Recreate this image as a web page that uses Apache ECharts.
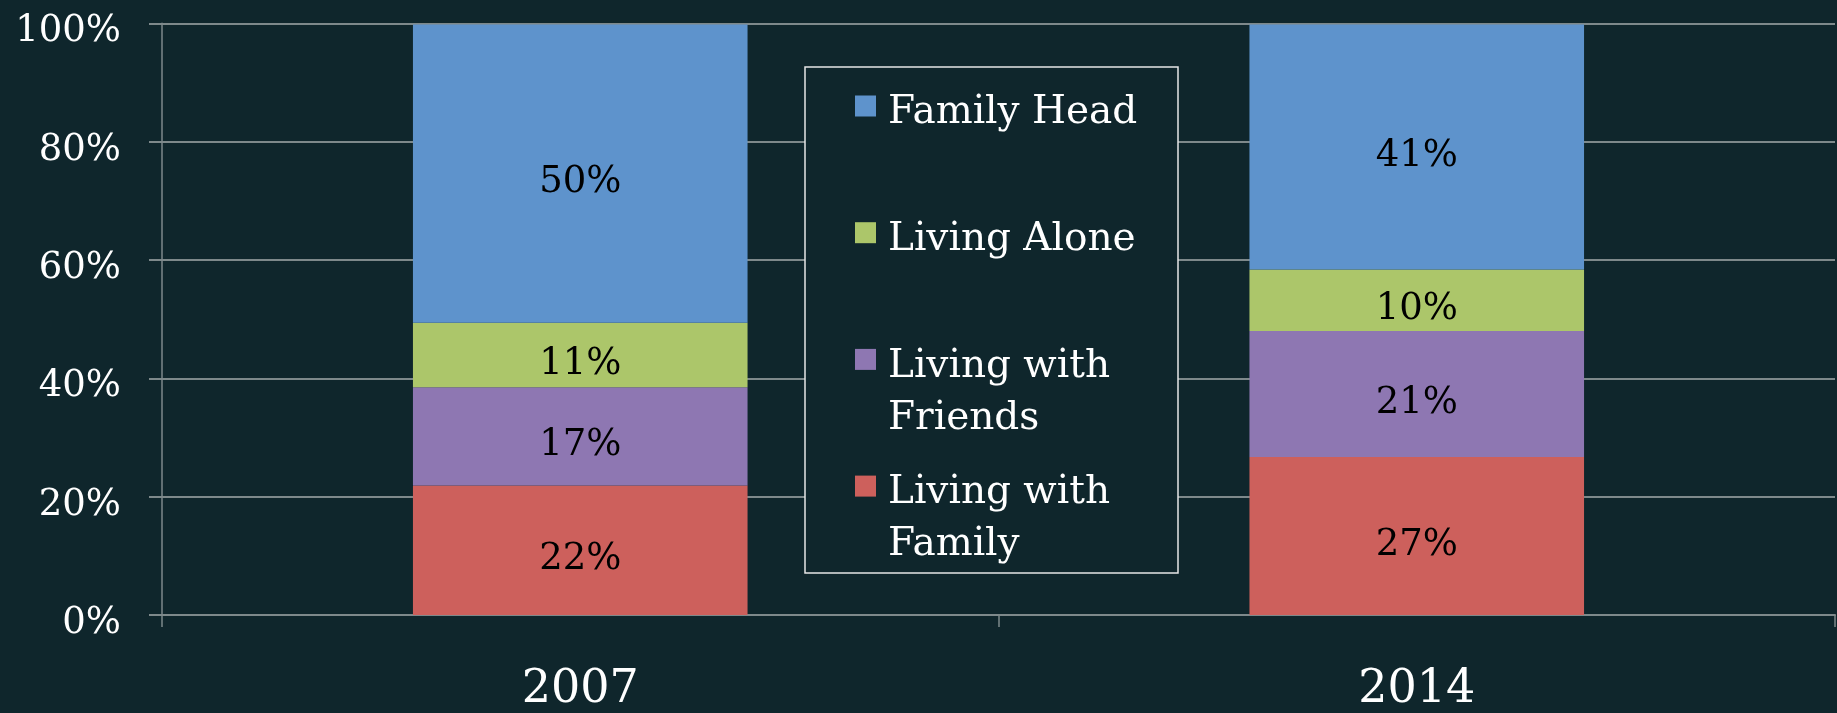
<!DOCTYPE html>
<html>
<head>
<meta charset="utf-8">
<script src="https://cdn.jsdelivr.net/npm/echarts@6/dist/echarts.min.js"></script>
<style>
  html, body { margin: 0; padding: 0; background: #0F262C; }
  #chart { width: 1837px; height: 713px; }
</style>
</head>
<body>
<div id="chart"></div>
<script>
// ---- data ----
const years = ['2007', '2014'];
const seriesNames = ['Living with Family', 'Living with Friends', 'Living Alone', 'Family Head'];
const livingWithFamily = [21.9, 26.7];
const livingWithFriends = [16.6, 21.3];
const livingAlone = [10.9, 10.4];
const familyHead = [50.4, 41.4];
const yTicks = [0, 20, 40, 60, 80, 100];
const legendOrder = ['Family Head', 'Living Alone', 'Living with Friends', 'Living with Family'];

const colors = {
  'Living with Family': '#CD605C',
  'Living with Friends': '#8E77B2',
  'Living Alone': '#ACC66A',
  'Family Head': '#5E93CC'
};
const values = {
  'Living with Family': livingWithFamily,
  'Living with Friends': livingWithFriends,
  'Living Alone': livingAlone,
  'Family Head': familyHead
};

const FONT = 'DejaVu Serif';
const GRID_COLOR = '#7E898B';

const chart = echarts.init(document.getElementById('chart'), null, { renderer: 'canvas' });

const series = seriesNames.map(name => ({
  name: name,
  type: 'bar',
  stack: 'total',
  barWidth: '40%',
  data: values[name],
  itemStyle: { color: colors[name] },
  label: {
    show: true,
    position: 'inside',
    offset: [0, 9],
    color: '#000000',
    fontFamily: FONT,
    fontSize: 37,
    formatter: p => Math.round(p.value) + '%'
  },
  emphasis: { disabled: true }
}));

chart.setOption({
  backgroundColor: '#0F262C',
  animation: false,
  grid: { left: 162, right: 2, top: 23.3, bottom: 98, containLabel: false },
  xAxis: {
    type: 'category',
    data: years,
    boundaryGap: true,
    axisLine: { show: true, lineStyle: { color: GRID_COLOR, width: 2 } },
    axisTick: { show: true, alignWithLabel: false, length: 12, lineStyle: { color: GRID_COLOR, width: 1.5 } },
    axisLabel: { color: '#FFFFFF', fontFamily: FONT, fontSize: 46, lineHeight: 46, margin: 52 },
    splitLine: { show: false }
  },
  yAxis: {
    type: 'value',
    min: yTicks[0],
    max: yTicks[yTicks.length - 1],
    interval: yTicks[1] - yTicks[0],
    axisLine: { show: true, lineStyle: { color: GRID_COLOR, width: 1.5 } },
    axisTick: { show: true, inside: false, length: 13, lineStyle: { color: GRID_COLOR, width: 2 } },
    axisLabel: {
      color: '#FFFFFF', fontFamily: FONT, fontSize: 37, margin: 41,
      formatter: v => '{t|' + v + '%}',
      rich: { t: { color: '#FFFFFF', fontFamily: FONT, fontSize: 37, padding: [17, 0, 0, 0] } }
    },
    splitLine: { show: true, lineStyle: { color: GRID_COLOR, width: 2 } }
  },
  legend: {
    data: legendOrder,
    orient: 'vertical',
    left: 855,
    top: 21,
    padding: 0,
    itemGap: -43.3,
    itemWidth: 21,
    itemHeight: 21,
    icon: 'rect',
    selectedMode: false,
    z: 10,
    textStyle: {
      color: '#FFFFFF', fontFamily: FONT, fontSize: 39, lineHeight: 52,
      rich: {
        g: { fontSize: 10, lineHeight: 66, color: 'transparent' },
        b: { fontSize: 10, lineHeight: 52, color: 'transparent' },
        t: { color: '#FFFFFF', fontFamily: FONT, fontSize: 39, lineHeight: 52, padding: [0, 0, 0, 7] }
      }
    },
    formatter: function (name) {
      const prefix = 'Living with ';
      if (name.indexOf(prefix) === 0) {
        return '{g| }\n{t|Living with}\n{t|' + name.slice(prefix.length) + '}';
      }
      return '{g| }\n{t|' + name + '}\n{b| }';
    }
  },
  graphic: [{
    type: 'rect',
    z: 3,
    shape: { x: 805, y: 67, width: 373, height: 506 },
    style: { fill: '#0F262C', stroke: '#E6E6E6', lineWidth: 1.5 },
    silent: true
  }],
  series: series
});
</script>
</body>
</html>
